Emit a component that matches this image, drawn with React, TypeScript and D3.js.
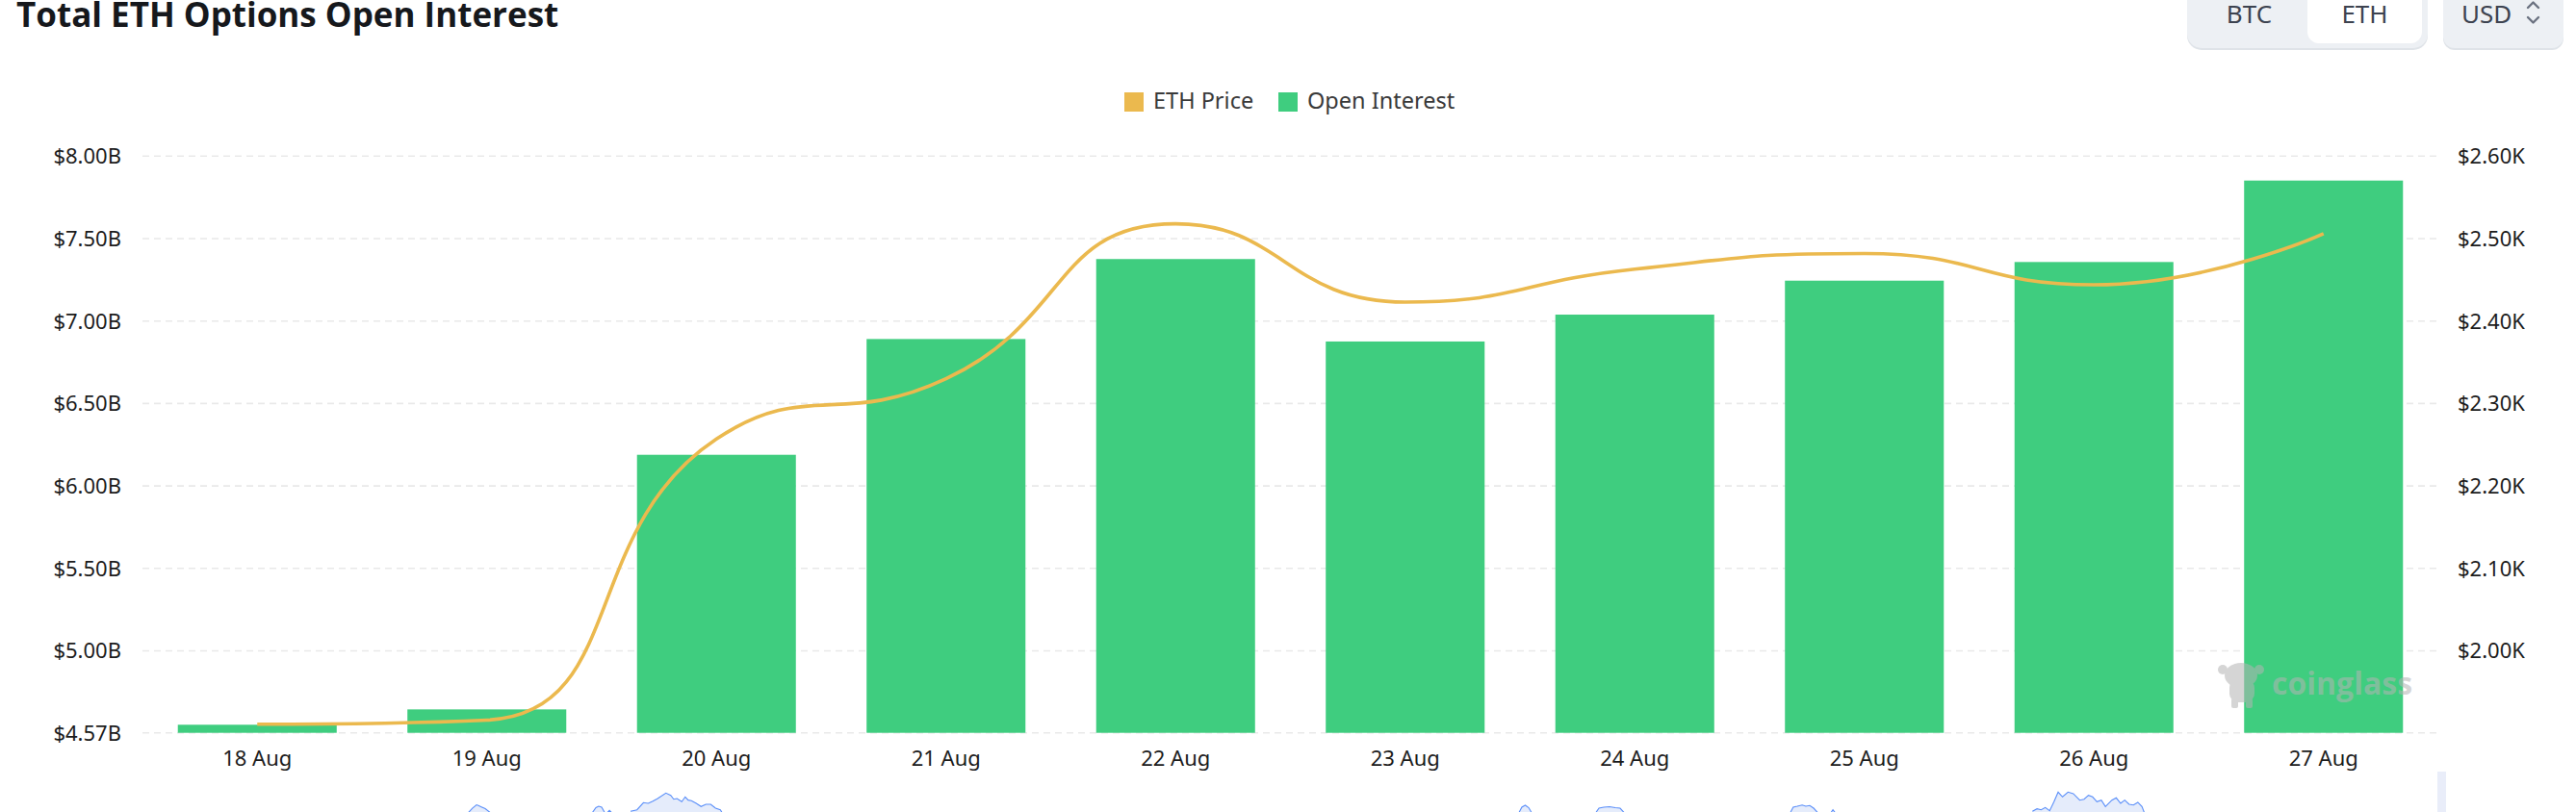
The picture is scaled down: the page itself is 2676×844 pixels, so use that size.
import React from "react"
import * as d3 from "d3"

// --- data ---
const dates = ["18 Aug", "19 Aug", "20 Aug", "21 Aug", "22 Aug", "23 Aug", "24 Aug", "25 Aug", "26 Aug", "27 Aug"]
const openInterestB = [4.552, 4.645, 6.189, 6.891, 7.376, 6.876, 7.039, 7.245, 7.358, 7.852]
const ethPriceK = [1.911, 1.916, 2.257, 2.33, 2.518, 2.423, 2.463, 2.482, 2.444, 2.506]

const leftMin = 4.503
const leftMax = 8.0
const leftTicks = [leftMin, 5.0, 5.5, 6.0, 6.5, 7.0, 7.5, 8.0]
const leftTickLabels = ["$4.57B", "$5.00B", "$5.50B", "$6.00B", "$6.50B", "$7.00B", "$7.50B", "$8.00B"]

const rightMin = 1.9006
const rightMax = 2.6
const rightTicks = [2.0, 2.1, 2.2, 2.3, 2.4, 2.5, 2.6]
const rightTickLabels = ["$2.00K", "$2.10K", "$2.20K", "$2.30K", "$2.40K", "$2.50K", "$2.60K"]

const legendItems = [
  { name: "ETH Price", color: "#ebb94e" },
  { name: "Open Interest", color: "#3fcd7f" },
]

const coinButtons = ["BTC", "ETH"]
const activeCoin = "ETH"

// dataZoom shadow peaks that poke into view: [position 0..1000, level 0..100]
const navPeaks: [number, number][][] = [
  [[142, 41], [143.7, 47], [145.5, 52], [146.3, 51], [147.6, 49], [149.3, 46.5], [151.4, 41]],
  [[196, 41], [197.5, 48], [198.7, 50], [200, 48.6], [201.3, 41]],
  [[202.5, 41], [203.4, 44], [204.3, 41]],
  [
    [212.6, 42.6], [215.4, 44.9], [218.2, 55.1], [220.3, 54.2], [222.3, 57.4], [224.4, 61.1], [228, 69],
    [230.1, 65.7], [231.4, 60.1], [232.8, 61.1], [234.9, 56.5], [236.4, 63.5], [237.7, 58.8], [239.1, 57.9],
    [241.2, 54.2], [243.3, 49.6], [245.4, 52.8], [247.5, 52.8], [249.6, 47.2], [251.7, 44.9], [252.4, 41],
  ],
  [[599.6, 41], [600.8, 48.6], [602.3, 51.4], [603.8, 47.9], [605, 41]],
  [[633.1, 41], [634.4, 47.2], [636.5, 48.6], [639, 49.3], [641.5, 47.9], [643.6, 47.2], [645.3, 41]],
  [[717.8, 41], [719, 48.6], [720.8, 50], [722.9, 51.8], [724.5, 50], [726.2, 51], [727.9, 47.2], [729.6, 41]],
  [[735.5, 41], [736.3, 45], [737.2, 41]],
  [
    [823.2, 42.6], [825.2, 46.3], [827, 44.9], [828.8, 48.2], [830.7, 43.5], [832.6, 56.5], [834.4, 70.4],
    [836.3, 63.5], [838.7, 70.4], [841, 68.1], [843.8, 58.8], [845.7, 60.1], [847.6, 65.7], [849.4, 63.5],
    [851.3, 56.5], [853.2, 58.8], [855, 49.6], [857.8, 58.8], [859.7, 62.1], [861.6, 54.2], [863.4, 58.8],
    [865.3, 52.8], [867.2, 51.8], [869.1, 55.6], [870.9, 49.6], [871.9, 41],
  ],
]

const W = 2676
const H = 844
const plotLeft = 148
const plotRight = 2533
const plotTop = 162.3
const plotBottom = 761.7
const axisFont = "'Noto Sans', sans-serif"

// echarts-style smooth line (smooth = 0.5, control points clamped to neighbours)
function smoothPath(pts: [number, number][], smooth = 0.5) {
  const p = d3.path()
  let cpx0 = pts[0][0]
  let cpy0 = pts[0][1]
  p.moveTo(pts[0][0], pts[0][1])
  for (let i = 1; i < pts.length; i++) {
    const [x, y] = pts[i]
    const [prevX, prevY] = pts[i - 1]
    let cpx1 = x
    let cpy1 = y
    let nextCpx0 = x
    let nextCpy0 = y
    if (i < pts.length - 1) {
      const [nextX, nextY] = pts[i + 1]
      let vx = nextX - prevX
      let vy = nextY - prevY
      const lenPrev = Math.hypot(x - prevX, y - prevY)
      const lenNext = Math.hypot(nextX - x, nextY - y)
      const ratio = lenNext / (lenNext + lenPrev)
      nextCpx0 = x + vx * smooth * ratio
      nextCpy0 = y + vy * smooth * ratio
      nextCpx0 = Math.max(Math.min(nextCpx0, Math.max(nextX, x)), Math.min(nextX, x))
      nextCpy0 = Math.max(Math.min(nextCpy0, Math.max(nextY, y)), Math.min(nextY, y))
      vx = nextCpx0 - x
      vy = nextCpy0 - y
      cpx1 = x - (vx * lenPrev) / lenNext
      cpy1 = y - (vy * lenPrev) / lenNext
      cpx1 = Math.max(Math.min(cpx1, Math.max(prevX, x)), Math.min(prevX, x))
      cpy1 = Math.max(Math.min(cpy1, Math.max(prevY, y)), Math.min(prevY, y))
      vx = x - cpx1
      vy = y - cpy1
      nextCpx0 = x + (vx * lenNext) / lenPrev
      nextCpy0 = y + (vy * lenNext) / lenPrev
    }
    p.bezierCurveTo(cpx0, cpy0, cpx1, cpy1, x, y)
    cpx0 = nextCpx0
    cpy0 = nextCpy0
  }
  return p.toString()
}

export default function App() {
  const x = d3.scaleBand<string>().domain(dates).range([plotLeft, plotRight]).paddingInner(0.308).paddingOuter(0.154)
  const yLeft = d3.scaleLinear().domain([leftMin, leftMax]).range([plotBottom, plotTop])
  const yRight = d3.scaleLinear().domain([rightMin, rightMax]).range([plotBottom, plotTop])

  const center = (d: string) => (x(d) ?? 0) + x.bandwidth() / 2
  const pricePts = dates.map((d, i) => [center(d), yRight(ethPriceK[i])] as [number, number])

  const navX = d3.scaleLinear().domain([0, 1000]).range([plotLeft, plotRight])
  const navY = d3.scaleLinear().domain([0, 100]).range([874, 802])
  const navArea = d3
    .area<[number, number]>()
    .x((d) => navX(d[0]))
    .y0(navY(0))
    .y1((d) => navY(d[1]))
  const navLine = d3
    .line<[number, number]>()
    .x((d) => navX(d[0]))
    .y((d) => navY(d[1]))

  return (
    <>
      <style>{`body{margin:0;background:#fff}`}</style>
      <svg width={W} height={H} style={{ display: "block" }}>
        <rect width={W} height={H} fill="#fff" />

        {/* title */}
        <text x={17} y={28} fontFamily="'Open Sans', sans-serif" fontWeight={700} fontSize={35} fill="#16181c">
          Total ETH Options Open Interest
        </text>

        {/* coin switch */}
        <g fontFamily={axisFont} fontSize={26} fill="#3d4350">
          <rect x={2272} y={-20} width={250} height={72} rx={15} fill="#dfe3e8" />
          <rect x={2272} y={-20} width={250} height={70} rx={15} fill="#edf0f4" />
          {coinButtons.map((c, i) => {
            const bx = 2277 + i * 120
            return (
              <g key={c}>
                {c === activeCoin && <rect x={bx} y={-20} width={119} height={65} rx={12} fill="#fff" />}
                <text x={bx + 59.5} y={24} textAnchor="middle" fill="#3d4350">
                  {c}
                </text>
              </g>
            )
          })}
          <rect x={2538} y={-20} width={125} height={72} rx={12} fill="#dfe3e8" />
          <rect x={2538} y={-20} width={125} height={70} rx={12} fill="#edf0f4" />
          <text x={2557} y={24} fill="#3d4350">
            USD
          </text>
          <path d="M2626,8 L2631.5,2.5 L2637,8 M2626,18 L2631.5,23.5 L2637,18" fill="none" stroke="#6b7280" strokeWidth={2.4} strokeLinecap="round" strokeLinejoin="round" />
        </g>

        {/* legend */}
        <g fontFamily={axisFont} fontSize={23.5} fill="#3a3a3a">
          {legendItems.map((l, i) => {
            const lx = i === 0 ? 1168 : 1328
            return (
              <g key={l.name}>
                <rect x={lx} y={96} width={20} height={20} fill={l.color} />
                <text x={lx + 30} y={113}>
                  {l.name}
                </text>
              </g>
            )
          })}
        </g>

        {/* grid */}
        {leftTicks.map((t) => (
          <line key={t} x1={plotLeft} x2={plotRight} y1={yLeft(t)} y2={yLeft(t)} stroke="#e9e9e9" strokeWidth={1.6} strokeDasharray="7,5" />
        ))}

        {/* left axis labels */}
        <g fontFamily={axisFont} fontSize={22} fill="#1c1c1c" textAnchor="end">
          {leftTicks.map((t, i) => (
            <text key={t} x={126} y={yLeft(t)} dy="0.36em">
              {leftTickLabels[i]}
            </text>
          ))}
        </g>

        {/* right axis labels */}
        <g fontFamily={axisFont} fontSize={22} fill="#1c1c1c">
          {rightTicks.map((t, i) => (
            <text key={t} x={2553} y={yRight(t)} dy="0.36em">
              {rightTickLabels[i]}
            </text>
          ))}
        </g>

        {/* bars */}
        {dates.map((d, i) => (
          <rect key={d} x={x(d)} y={yLeft(openInterestB[i])} width={x.bandwidth()} height={plotBottom - yLeft(openInterestB[i])} fill="#3fcd7f" />
        ))}

        {/* price line */}
        <path d={smoothPath(pricePts)} fill="none" stroke="#ebb94e" strokeWidth={3.6} strokeLinejoin="round" />

        {/* x labels */}
        <g fontFamily={axisFont} fontSize={22} fill="#1c1c1c" textAnchor="middle">
          {dates.map((d) => (
            <text key={d} x={center(d)} y={796}>
              {d}
            </text>
          ))}
        </g>

        {/* watermark */}
        <g fill="#b4b4b4" opacity={0.55}>
          <ellipse cx={2328} cy={702} rx={17} ry={13} />
          <ellipse cx={2309} cy={696} rx={5} ry={5} />
          <ellipse cx={2347} cy={696} rx={5} ry={5} />
          <rect x={2316} y={706} width={26} height={24} rx={9} />
          <rect x={2318} y={726} width={7} height={10} rx={2} />
          <rect x={2333} y={726} width={7} height={10} rx={2} />
          <text x={2360} y={722} fontFamily="'Open Sans', sans-serif" fontWeight={700} fontSize={32}>
            coinglass
          </text>
        </g>

        {/* dataZoom shadow */}
        {navPeaks.map((pk, i) => (
          <g key={i}>
            <path d={navArea(pk) ?? ""} fill="#e5ecfb" />
            <path d={navLine(pk) ?? ""} fill="none" stroke="#5b8ff9" strokeWidth={1.1} />
          </g>
        ))}
        <rect x={2532} y={802} width={9} height={50} fill="#e9edf9" />
      </svg>
    </>
  )
}
